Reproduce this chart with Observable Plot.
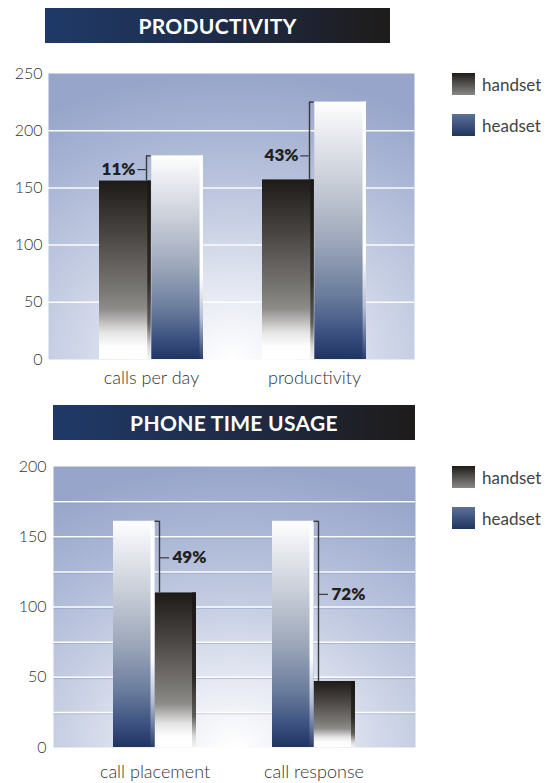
<!DOCTYPE html>
<html><head><meta charset="utf-8">
<script src="https://cdn.jsdelivr.net/npm/d3@7"></script>
<script src="https://cdn.jsdelivr.net/npm/@observablehq/plot@0.6"></script>
<style>
body{margin:0;background:#fff;font-family:Lato,"Open Sans",sans-serif;}
#wrap{position:relative;width:555px;height:783px;overflow:hidden;background:#fff;}
.title{position:absolute;height:35px;color:#fff;font-weight:700;font-size:21px;letter-spacing:0.3px;display:flex;align-items:center;justify-content:center;background:linear-gradient(to right,#1f3a68 0%,#1f2d4c 45%,#1e1b1a 100%);}
.chart{position:absolute;left:0;}
.legend{position:absolute;left:452px;width:103px;height:70px;}
.item{position:absolute;left:0;display:flex;align-items:center;white-space:nowrap;}
.sw{width:23px;height:22px;margin-right:7px;}
.lbl{font-size:17px;color:#444;}
</style></head><body><div id="wrap"></div><script>
// ---------- data ----------
const series = ["handset", "headset"];

const topTitle = "PRODUCTIVITY";
const topGroups = ["calls per day", "productivity"];
const topHandset = [156, 157];
const topHeadset = [178, 225];
const topChange = ["11%", "43%"];
const topChangeAt = [166, 178];
const topTicks = [0, 50, 100, 150, 200, 250];
const topGrid = [50, 100, 150, 200];

const botTitle = "PHONE TIME USAGE";
const botGroups = ["call placement", "call response"];
const botHeadset = [161, 161];
const botHandset = [110, 47];
const botChange = ["49%", "72%"];
const botChangeAt = [135, 109];
const botTicks = [0, 50, 100, 150, 200];
const botGrid = [25, 50, 75, 100, 125, 150, 175];

// ---------- helpers ----------
const NS = "http://www.w3.org/2000/svg";
function makeDefs(p) {
  const defs = document.createElementNS(NS, "defs");
  function lin(id, stops) {
    const g = document.createElementNS(NS, "linearGradient");
    g.setAttribute("id", p + id);
    g.setAttribute("x1", 0); g.setAttribute("y1", 0); g.setAttribute("x2", 0); g.setAttribute("y2", 1);
    for (const [o, c] of stops) {
      const s = document.createElementNS(NS, "stop");
      s.setAttribute("offset", o); s.setAttribute("stop-color", c); g.appendChild(s);
    }
    defs.appendChild(g);
  }
  lin("hand", [[0, "#1e1a18"], [0.3, "#494542"], [0.62, "#7a7875"], [0.72, "#8e8c89"], [0.85, "#e4e4e4"], [0.93, "#fdfdfd"], [1, "#ffffff"]]);
  lin("handside", [[0, "#1a1614"], [0.55, "#2c2826"], [0.8, "#5e5c5a"], [0.93, "#d8d8d8"], [1, "#f4f4f4"]]);
  lin("head", [[0, "#ffffff"], [0.1, "#eceef2"], [0.35, "#c2c8d3"], [0.55, "#9ba6b9"], [0.75, "#6b7d9d"], [0.9, "#3c5181"], [1, "#1f3461"]]);
  lin("headside", [[0, "#ffffff"], [0.6, "#ffffff"], [0.8, "#b3bdd2"], [1, "#2a3d6a"]]);
  const r = document.createElementNS(NS, "radialGradient");
  r.setAttribute("id", p + "bg");
  r.setAttribute("cx", 0.5); r.setAttribute("cy", 1); r.setAttribute("r", 1);
  for (const [o, c] of [[0, "#ffffff"], [0.22, "#e8ebf4"], [0.5, "#c6cee3"], [0.78, "#aab6d5"], [1, "#97a5ca"]]) {
    const s = document.createElementNS(NS, "stop");
    s.setAttribute("offset", o); s.setAttribute("stop-color", c); r.appendChild(s);
  }
  defs.appendChild(r);
  return defs;
}

function chart(cfg) {
  const {p, groups, handset, headset, change, changeAt, ticks, grid,
         width, height, mt, mr, mb, ml, ymax, pi, po, align, handFirst,
         lineDx, labelSide, ytickPad, xtickPad, shadow} = cfg;
  const B = d3.scaleBand().domain(groups).range([ml, width - mr])
    .paddingInner(pi).paddingOuter(po).align(align).bandwidth();
  const H = B / 2;
  const rows = groups.map((g, i) => ({group: g, handset: handset[i], headset: headset[i], label: change[i], at: changeAt[i]}));
  const leftHalf = {insetLeft: 0, insetRight: H};
  const rightHalf = {insetLeft: H, insetRight: 0};
  const handPos = handFirst ? leftHalf : rightHalf;
  const headPos = handFirst ? rightHalf : leftHalf;
  const handSide = {insetLeft: (handFirst ? H : B) - 4, insetRight: handFirst ? H : 0};
  const headSide = {insetLeft: (handFirst ? B : H) - 4, insetRight: handFirst ? 0 : H};
  const lineCol = "#3a3a3a";
  let topTick, midTick, textOpts;
  if (labelSide === "left") {
    topTick = {insetLeft: H + lineDx, insetRight: H};
    midTick = {insetLeft: H + lineDx - 9, insetRight: H - lineDx};
    textOpts = {dx: lineDx - 11, textAnchor: "end"};
  } else {
    topTick = {insetLeft: H, insetRight: H - lineDx};
    midTick = {insetLeft: H + lineDx, insetRight: H - lineDx - 10};
    textOpts = {dx: lineDx + 13, textAnchor: "start"};
  }
  const marks = [
    () => makeDefs(p),
    Plot.frame({fill: `url(#${p}bg)`, stroke: "none"}),
  ];
  if (shadow) marks.push(Plot.ruleY(grid, {stroke: "#8090b5", strokeOpacity: 0.45, strokeWidth: 1, dy: 1.3}));
  marks.push(
    Plot.ruleY(grid, {stroke: "#ffffff", strokeWidth: 1.5, strokeOpacity: 0.95}),
    Plot.barY(rows, {x: "group", y: "handset", fill: `url(#${p}hand)`, ...handPos}),
    Plot.barY(rows, {x: "group", y: "handset", fill: `url(#${p}handside)`, ...handSide}),
    Plot.barY(rows, {x: "group", y: "headset", fill: `url(#${p}head)`, ...headPos}),
    Plot.barY(rows, {x: "group", y: "headset", fill: `url(#${p}headside)`, ...headSide}),
    Plot.ruleX(rows, {x: "group", y1: "handset", y2: "headset", dx: lineDx, stroke: lineCol, strokeWidth: 1.4}),
    Plot.tickY(rows, {x: "group", y: "headset", stroke: lineCol, strokeWidth: 1.4, ...topTick}),
    Plot.tickY(rows, {x: "group", y: "at", stroke: lineCol, strokeWidth: 1.2, ...midTick}),
    Plot.text(rows, {x: "group", y: "at", text: "label", fontSize: 17, fontWeight: 800, fill: "#231f20", ...textOpts}),
    Plot.axisY({ticks, tickSize: 0, tickPadding: ytickPad, fontSize: 16, fontWeight: 300, label: null}),
    Plot.axisX({tickSize: 0, tickPadding: xtickPad, fontSize: 18, fontWeight: 300, label: null})
  );
  return Plot.plot({
    width, height, marginTop: mt, marginRight: mr, marginBottom: mb, marginLeft: ml,
    style: {fontFamily: "Lato, 'Open Sans', sans-serif", color: "#333333", background: "transparent", overflow: "visible"},
    x: {type: "band", domain: groups, paddingInner: pi, paddingOuter: po, align},
    y: {domain: [0, ymax]},
    marks
  });
}

function legend(top) {
  const lg = document.createElement("div");
  lg.className = "legend"; lg.style.top = top + "px";
  const sw = {handset: "linear-gradient(#1f1b19,#8a8886)", headset: "linear-gradient(#5d7197,#1f3461)"};
  series.forEach((s, i) => {
    const it = document.createElement("div");
    it.className = "item"; it.style.top = (i * 41) + "px";
    it.innerHTML = `<div class="sw" style="background:${sw[s]}"></div><span class="lbl">${s}</span>`;
    lg.appendChild(it);
  });
  return lg;
}

const wrap = document.getElementById("wrap");
function title(text, left, top, w) {
  const t = document.createElement("div");
  t.className = "title"; t.textContent = text;
  Object.assign(t.style, {left: left + "px", top: top + "px", width: w + "px"});
  wrap.appendChild(t);
}

title(topTitle, 45, 8, 345);
const c1 = chart({p: "t", groups: topGroups, handset: topHandset, headset: topHeadset, change: topChange, changeAt: topChangeAt,
  ticks: topTicks, grid: topGrid, width: 555, height: 339, mt: 23, mr: 141, mb: 30, ml: 48, ymax: 250,
  pi: 0.36, po: 0.3, align: 0.52, handFirst: true, lineDx: -5, labelSide: "left", ytickPad: 6, xtickPad: 12, shadow: false});
c1.classList.add("chart"); c1.style.top = "50px";
wrap.appendChild(c1);
wrap.appendChild(legend(73));

title(botTitle, 53, 405, 362);
const c2 = chart({p: "b", groups: botGroups, handset: botHandset, headset: botHeadset, change: botChange, changeAt: botChangeAt,
  ticks: botTicks, grid: botGrid, width: 555, height: 343, mt: 26, mr: 140, mb: 36, ml: 53, ymax: 200,
  pi: 0.478, po: 0.377, align: 0.5, handFirst: false, lineDx: 4.5, labelSide: "right", ytickPad: 7, xtickPad: 18, shadow: true});
c2.classList.add("chart"); c2.style.top = "440px";
wrap.appendChild(c2);
wrap.appendChild(legend(466));
</script></body></html>
